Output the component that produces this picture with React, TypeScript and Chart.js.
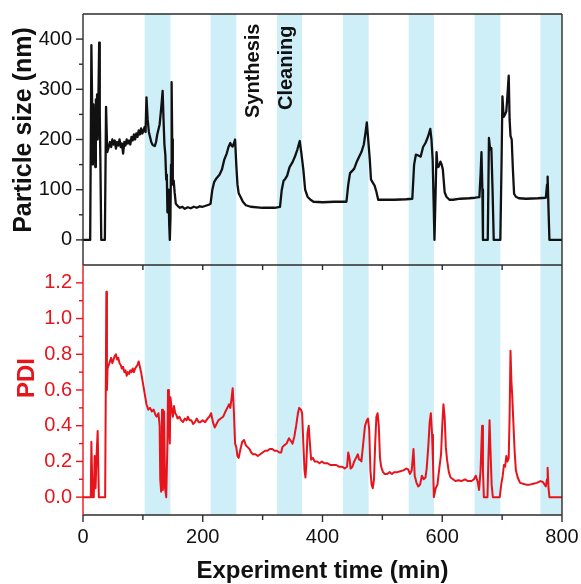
import React, { useEffect, useRef } from "react";
import { Chart, registerables } from "chart.js";

Chart.register(...registerables);

// ---------- data ----------
const sizeTime = [
  0, 12, 14, 15.5, 16.5, 17.5, 18.5, 19.5, 20.5, 21.5,
  22.5, 23.5, 24.5, 25.5, 27, 28, 29, 30.5, 36.5, 38.5,
  40.5, 43, 45, 47, 49, 51, 53, 55, 57, 59,
  61, 63, 65, 67, 69, 71, 73, 75, 77, 79,
  81, 83, 85, 87, 89, 91, 93, 95, 97, 99,
  101, 103, 104.5, 106, 108, 110, 112, 114, 116, 118,
  120, 122, 124, 126, 128, 130, 131.5, 133, 134.5, 136,
  137.5, 139, 140, 141, 142, 143, 144, 145, 146, 147,
  148, 149, 150, 151.5, 153, 155, 158, 162, 166, 170,
  175, 180, 185, 190, 195, 200, 205, 210, 213, 216,
  219, 223, 228, 232, 236, 240, 243, 246, 248, 250,
  252, 254, 256, 258, 260, 263, 267, 272, 280, 300,
  320, 329, 332, 335, 338, 341, 345, 350, 354, 358,
  362, 365, 368, 371, 375, 380, 385, 400, 420, 440,
  443, 446, 450, 453, 457, 461, 465, 469, 472, 474,
  476, 479, 481, 484, 487, 490, 493, 500, 520, 540,
  550, 553, 556, 560, 564, 568, 572, 576, 580, 582,
  584, 585.5, 587, 589, 590.5, 592, 594, 597, 599, 601,
  604, 607, 612, 618, 630, 645, 655, 662, 664, 665.5,
  667, 668, 676, 678, 680, 682, 684, 686, 697, 699,
  700.5, 702.5, 705, 707, 709, 711, 712.5, 714, 716, 718,
  720, 723, 728, 740, 760, 773, 775, 776, 777.5, 779,
  800,
];
const sizeValues = [
  0, 0, 388, 250, 150, 270, 190, 260, 145, 280,
  210, 290, 200, 260, 393, 250, 160, 0, 0, 265,
  175, 185, 195, 185, 200, 190, 198, 182, 195, 188,
  200, 185, 192, 172, 195, 188, 200, 192, 198, 190,
  205, 198, 210, 200, 212, 205, 218, 210, 222, 212,
  218, 225, 215, 284, 240, 215, 205, 195, 190, 188,
  187, 195, 210, 220, 230, 255, 275, 297, 240, 190,
  170, 120, 130, 55, 100, 85, 30, 0, 40, 150,
  314, 200, 110, 118, 95, 72, 68, 64, 66, 62,
  65, 63, 66, 64, 67, 66, 68, 70, 72, 100,
  115, 123, 130, 140, 160, 172, 185, 193, 188, 186,
  192, 200, 150, 110, 93, 86, 76, 69, 66, 64,
  64, 66, 100, 118, 122, 128, 145, 155, 166, 180,
  197, 170, 140, 100, 86, 80, 76, 75, 76, 76,
  110, 133, 138, 142, 155, 165, 175, 190, 215, 234,
  205, 160, 120, 114, 108, 96, 80, 80, 80, 81,
  82, 150, 170, 168, 166, 185, 193, 205, 221, 200,
  160, 80, 0, 100, 175, 145, 146, 156, 150, 140,
  95, 86, 80, 80, 82, 83, 84, 85, 130, 175,
  100, 0, 0, 203, 180, 183, 100, 0, 0, 150,
  286, 245, 250, 256, 290, 327, 240, 207, 200, 140,
  92, 86, 83, 82, 83, 84, 110, 126, 60, 0,
  0,
];

const pdiTime = [
  0, 13, 14, 16, 18, 19.5, 21, 22.5, 24.5, 26.5,
  37, 39, 40, 41, 43, 45, 47, 49, 51, 53,
  55, 57, 59, 61, 63, 65, 67, 69, 71, 73,
  75, 77, 79, 81, 83, 85, 87, 89, 91, 93,
  95, 97, 100, 103, 106, 109, 112, 115, 118, 121,
  123, 126, 128, 129, 130.5, 132, 133.5, 135.5, 137, 139,
  141, 142, 143.5, 145, 146, 148, 150, 152, 154, 156,
  158, 161, 164, 167, 170, 173, 175, 178, 181, 184,
  187, 190, 193, 196, 200, 204, 208, 211, 214, 217,
  220, 223, 226, 230, 234, 238, 241, 244, 246, 248,
  250, 252, 254, 256, 258, 260, 263, 266, 269, 272,
  275, 278, 281, 284, 288, 292, 296, 300, 304, 308,
  312, 316, 320, 324, 328, 331, 333, 336, 340, 344,
  348, 350, 353, 356, 359, 361, 364, 366, 368, 370,
  371.5, 373, 375, 377, 379, 381, 384, 387, 391, 395,
  399, 403, 408, 413, 418, 423, 428, 433, 437, 441,
  443, 445, 447, 450, 453, 456, 459, 461, 463, 465,
  468, 471, 474, 476, 478, 480, 482, 484, 486, 488,
  490, 492, 494, 496, 498, 501, 504, 508, 512, 516,
  520, 525, 530, 535, 540, 543, 546, 549, 552, 554,
  557, 560, 563, 566, 569, 572, 574, 577, 579, 581,
  583, 584.5, 586, 589, 592, 595, 598, 600, 602, 604,
  606, 608, 611, 614, 618, 622, 627, 632, 638, 643,
  649, 653, 656, 659, 661.5, 664, 666.5, 668, 669.5, 675.5,
  677, 679, 681, 682.5, 684.5, 696, 698.5, 701, 703, 705,
  707, 709, 711, 712.5, 714, 715.5, 717, 719, 721, 723,
  726, 730, 735, 740, 746, 752, 758, 764, 768, 771,
  773, 775, 776, 777.5, 779, 800,
];
const pdiValues = [
  0, 0, 0.31, 0, 0, 0.23, 0.05, 0.22, 0.37, 0,
  0, 1.15, 0.6, 0.72, 0.74, 0.76, 0.78, 0.75, 0.77, 0.79,
  0.8, 0.77, 0.78, 0.75, 0.74, 0.72, 0.73, 0.7, 0.71, 0.68,
  0.7, 0.69, 0.71, 0.7, 0.72, 0.7, 0.72, 0.73, 0.74, 0.76,
  0.73, 0.7, 0.64, 0.58, 0.52, 0.49, 0.5, 0.48, 0.49, 0.46,
  0.45, 0.47, 0.4, 0.1, 0.03, 0.49, 0.04, 0.48, 0.05, 0,
  0.3, 0.6, 0.4, 0.3, 0.56, 0.5, 0.45, 0.51, 0.47, 0.46,
  0.44, 0.45, 0.43, 0.42, 0.44, 0.43, 0.45, 0.43, 0.43, 0.41,
  0.42, 0.44, 0.42, 0.42, 0.43, 0.42, 0.44, 0.45, 0.47, 0.42,
  0.39, 0.41, 0.43, 0.44, 0.45, 0.48, 0.5, 0.52, 0.5, 0.55,
  0.61, 0.48, 0.3, 0.28, 0.23, 0.22, 0.27, 0.31, 0.32, 0.29,
  0.28, 0.27, 0.25, 0.24, 0.24, 0.23, 0.24, 0.25, 0.26, 0.26,
  0.27, 0.27, 0.26, 0.26, 0.25, 0.25, 0.28, 0.29, 0.3, 0.33,
  0.31, 0.3, 0.34, 0.4, 0.47, 0.5, 0.49, 0.47, 0.3, 0.15,
  0.11, 0.18, 0.36, 0.4, 0.3, 0.21, 0.22, 0.2, 0.2, 0.19,
  0.2, 0.19, 0.19, 0.18, 0.18, 0.18, 0.17, 0.17, 0.16, 0.17,
  0.25, 0.22, 0.16, 0.17, 0.2, 0.22, 0.24, 0.21, 0.21, 0.2,
  0.3, 0.4, 0.43, 0.44, 0.38, 0.15, 0.07, 0.05, 0.1, 0.3,
  0.45, 0.47, 0.4, 0.22, 0.17, 0.14, 0.13, 0.13, 0.14, 0.13,
  0.14, 0.14, 0.145, 0.15, 0.16, 0.155, 0.13, 0.15, 0.27, 0.12,
  0.08, 0.06, 0.07, 0.12, 0.1, 0.11, 0.16, 0.3, 0.42, 0.47,
  0.35, 0.2, 0, 0.05, 0.07, 0.16, 0.24, 0.4, 0.52, 0.45,
  0.28, 0.21, 0.14, 0.11, 0.1, 0.09, 0.095, 0.09, 0.1, 0.09,
  0.09, 0.1, 0.12, 0.09, 0.04, 0.15, 0.4, 0.15, 0, 0,
  0.2, 0.43, 0.22, 0.07, 0, 0, 0.07, 0.12, 0.18, 0.17,
  0.23, 0.2, 0.22, 0.45, 0.82, 0.65, 0.56, 0.4, 0.25, 0.15,
  0.11, 0.08, 0.075, 0.07, 0.07, 0.075, 0.08, 0.09, 0.085, 0.07,
  0.06, 0.1, 0.165, 0.05, 0, 0,
];

// shaded (synthesis) intervals, minutes
const bandStart = [103, 213, 324, 434, 544, 654, 764];
const bandEnd = [146, 256, 366, 477, 586, 697, 800];

const xTickValues = [0, 200, 400, 600, 800];
const xMinorValues = [100, 300, 500, 700];
const xTopTickValues = [100, 200, 300, 400, 500, 600, 700];
const sizeTickValues = [0, 100, 200, 300, 400];
const sizeMinorValues = [50, 150, 250, 350];
const pdiTickValues = [0, 0.2, 0.4, 0.6, 0.8, 1.0, 1.2];
const pdiMinorValues = [0.1, 0.3, 0.5, 0.7, 0.9, 1.1];

const phaseLabels = ["Synthesis", "Cleaning"];
const phaseLabelTime = [294, 349];
const phaseLabelStartY = [118, 110];

// ---------- styles ----------
const FRAME = "#2b2b2b";
const RED = "#e8141c";
const BAND = "rgb(206,238,248)";
const FONT = "'Liberation Sans', Arial, sans-serif";

function line(ctx: CanvasRenderingContext2D, x0: number, y0: number, x1: number, y1: number, c: string) {
  ctx.strokeStyle = c;
  ctx.beginPath();
  ctx.moveTo(x0, y0);
  ctx.lineTo(x1, y1);
  ctx.stroke();
}

const bandsPlugin = {
  id: "bands",
  beforeDatasetsDraw(chart: any) {
    const { ctx, chartArea: a, scales } = chart;
    const x = scales.x;
    ctx.save();
    ctx.fillStyle = BAND;
    bandStart.forEach((s, i) => {
      const x0 = x.getPixelForValue(s);
      const x1 = x.getPixelForValue(bandEnd[i]);
      ctx.fillRect(x0, a.top, x1 - x0, a.bottom - a.top);
    });
    ctx.restore();
  },
};

function rotatedText(ctx: CanvasRenderingContext2D, text: string, x: number, y: number, font: string, color: string, align: CanvasTextAlign) {
  ctx.save();
  ctx.translate(x, y);
  ctx.rotate(-Math.PI / 2);
  ctx.font = font;
  ctx.fillStyle = color;
  ctx.textAlign = align;
  ctx.textBaseline = "alphabetic";
  ctx.fillText(text, 0, 0);
  ctx.restore();
}

const topDecor = {
  id: "topDecor",
  afterDatasetsDraw(chart: any) {
    const { ctx, chartArea: a, scales } = chart;
    const y = scales.y;
    const x = scales.x;
    ctx.save();
    ctx.lineWidth = 1.4;
    line(ctx, a.left, a.top, a.right, a.top, FRAME);
    line(ctx, a.right, a.top, a.right, a.bottom, FRAME);
    line(ctx, a.left, a.top, a.left, a.bottom, FRAME);
    sizeTickValues.forEach((v) => {
      const p = y.getPixelForValue(v);
      line(ctx, a.left - 7, p, a.left, p, FRAME);
    });
    sizeMinorValues.forEach((v) => {
      const p = y.getPixelForValue(v);
      line(ctx, a.left - 4, p, a.left, p, FRAME);
    });
    rotatedText(ctx, "Particle size (nm)", 31, 130, `bold 25px ${FONT}`, "#111", "center");
    phaseLabels.forEach((t, i) => {
      rotatedText(ctx, t, x.getPixelForValue(phaseLabelTime[i]), phaseLabelStartY[i], `bold 20px ${FONT}`, "#111", "left");
    });
    ctx.restore();
  },
};

const bottomDecor = {
  id: "bottomDecor",
  afterDatasetsDraw(chart: any) {
    const { ctx, chartArea: a, scales } = chart;
    const y = scales.y;
    const x = scales.x;
    ctx.save();
    ctx.lineWidth = 1.4;
    line(ctx, a.left, a.top, a.right, a.top, FRAME);
    line(ctx, a.right, a.top, a.right, a.bottom, FRAME);
    line(ctx, a.left, a.bottom, a.right, a.bottom, FRAME);
    line(ctx, a.left, a.top, a.left, a.bottom, RED);
    pdiTickValues.forEach((v) => {
      const p = y.getPixelForValue(v);
      line(ctx, a.left - 7, p, a.left, p, RED);
    });
    pdiMinorValues.forEach((v) => {
      const p = y.getPixelForValue(v);
      line(ctx, a.left - 4, p, a.left, p, RED);
    });
    xTickValues.forEach((v) => {
      const p = x.getPixelForValue(v);
      line(ctx, p, a.bottom, p, a.bottom + 7, FRAME);
    });
    xMinorValues.forEach((v) => {
      const p = x.getPixelForValue(v);
      line(ctx, p, a.bottom, p, a.bottom + 5, FRAME);
    });
    xTopTickValues.forEach((v) => {
      const p = x.getPixelForValue(v);
      line(ctx, p, a.top, p, a.top + 5, FRAME);
    });
    rotatedText(ctx, "PDI", 34, 123, `bold 24px ${FONT}`, RED, "center");
    ctx.font = `bold 24px ${FONT}`;
    ctx.fillStyle = "#111";
    ctx.textAlign = "center";
    ctx.textBaseline = "alphabetic";
    ctx.fillText("Experiment time (min)", (a.left + a.right) / 2, 323);
    ctx.restore();
  },
};

function toPoints(t: number[], v: number[]) {
  return t.map((tt, i) => ({ x: tt, y: v[i] }));
}

function fixWidth(w: number) {
  return (s: any) => {
    s.width = w;
    s.paddingTop = 0;
    s.paddingBottom = 0;
    s.paddingLeft = 0;
    s.paddingRight = 0;
  };
}
function fixHeight(h: number) {
  return (s: any) => {
    s.height = h;
    s.paddingTop = 0;
    s.paddingBottom = 0;
    s.paddingLeft = 0;
    s.paddingRight = 0;
  };
}

export default function App() {
  const topRef = useRef<HTMLCanvasElement>(null);
  const botRef = useRef<HTMLCanvasElement>(null);

  useEffect(() => {
    const tickFont = { family: FONT, size: 20 };
    const top = new Chart(topRef.current as HTMLCanvasElement, {
      type: "line",
      data: {
        datasets: [
          {
            data: toPoints(sizeTime, sizeValues),
            borderColor: "#111",
            borderWidth: 2.3,
            pointRadius: 0,
            tension: 0,
            borderJoinStyle: "round",
          },
        ],
      },
      options: {
        responsive: false,
        animation: false,
        events: [],
        layout: { padding: { left: 0, right: 19, top: 14, bottom: 0 } },
        plugins: { legend: { display: false }, tooltip: { enabled: false } },
        scales: {
          x: { type: "linear", min: 0, max: 800, display: false },
          y: {
            type: "linear",
            min: -50,
            max: 450,
            afterBuildTicks: (s: any) => {
              s.ticks = sizeTickValues.map((v) => ({ value: v }));
            },
            afterFit: fixWidth(83),
            grid: { display: false, drawTicks: false },
            border: { display: false },
            ticks: { color: "#111", font: tickFont, padding: 11, callback: (v: any) => String(v) },
          },
        },
      } as any,
      plugins: [bandsPlugin, topDecor],
    });

    const bot = new Chart(botRef.current as HTMLCanvasElement, {
      type: "line",
      data: {
        datasets: [
          {
            data: toPoints(pdiTime, pdiValues),
            borderColor: RED,
            borderWidth: 2,
            pointRadius: 0,
            tension: 0,
            borderJoinStyle: "round",
          },
        ],
      },
      options: {
        responsive: false,
        animation: false,
        events: [],
        layout: { padding: { left: 0, right: 19, top: 10, bottom: 0 } },
        plugins: { legend: { display: false }, tooltip: { enabled: false } },
        scales: {
          x: {
            type: "linear",
            min: 0,
            max: 800,
            afterBuildTicks: (s: any) => {
              s.ticks = xTickValues.map((v) => ({ value: v }));
            },
            afterFit: fixHeight(69),
            grid: { display: false, drawTicks: false },
            border: { display: false },
            ticks: { color: "#111", font: tickFont, padding: 10, maxRotation: 0, autoSkip: false, callback: (v: any) => String(v) },
          },
          y: {
            type: "linear",
            min: -0.1,
            max: 1.3,
            afterBuildTicks: (s: any) => {
              s.ticks = pdiTickValues.map((v) => ({ value: v }));
            },
            afterFit: fixWidth(83),
            grid: { display: false, drawTicks: false },
            border: { display: false },
            ticks: { color: RED, font: tickFont, padding: 11, callback: (v: any) => Number(v).toFixed(1) },
          },
        },
      } as any,
      plugins: [bandsPlugin, bottomDecor],
    });

    return () => {
      top.destroy();
      bot.destroy();
    };
  }, []);

  return (
    <div style={{ position: "absolute", left: 0, top: 0, width: 581, height: 584, background: "#fff" }}>
      <canvas ref={topRef} width={581} height={265} style={{ position: "absolute", left: 0, top: 0, width: 581, height: 265 }} />
      <canvas ref={botRef} width={581} height={329} style={{ position: "absolute", left: 0, top: 255, width: 581, height: 329 }} />
    </div>
  );
}
